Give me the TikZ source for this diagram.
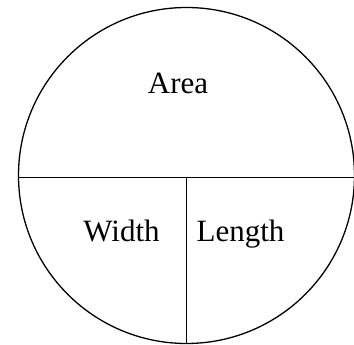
\documentclass[tikz,border=0pt]{standalone}
\usepackage{fontspec}
\setmainfont{Liberation Serif}

\begin{document}
\begin{tikzpicture}[x=1pt,y=1pt,
    word/.style={anchor=base,inner sep=0pt,font=\fontsize{31}{36}\selectfont}]
  \useasboundingbox (0,0) rectangle (354,345);
  \node[draw,circle,line width=1.3pt,minimum size=336pt,inner sep=0pt] (whole) at (186.5,169.5) {};
  \coordinate (mid) at (186.5,167.5);
  \node[word] (area)   at (178,251) {Area};
  \node[word] (width)  at (121.5,103) {Width};
  \node[word] (length) at (240.5,103) {Length};
  \draw[line width=1.7pt] (whole.west |- mid) -- (whole.east |- mid);
  \draw[line width=1.7pt] (mid) -- (whole.south);
\end{tikzpicture}
\end{document}
